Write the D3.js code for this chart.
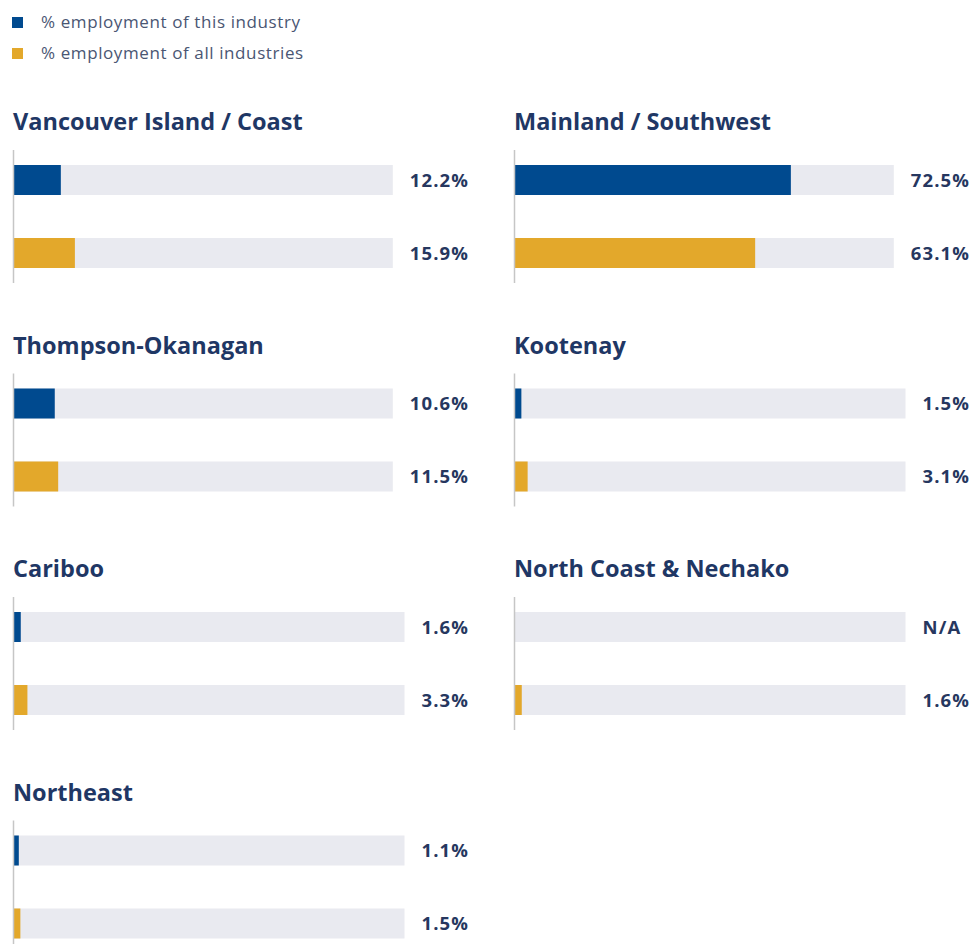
<!doctype html>
<html lang="en">
<head>
	<meta charset="UTF-8">
	<title>Employment by region</title>
	<style>
		body {
			margin: 0;
			background: #fff;
		}

		svg text {
			font-family: "Open Sans", sans-serif;
		}

		.legend__label {
			font-size: 17px;
			letter-spacing: 0.6px;
			fill: #4a5673;
		}

		.panel__title {
			font-size: 23.5px;
			font-weight: 700;
			fill: #1f3765;
		}

		.bar__label {
			font-size: 18.5px;
			font-weight: 700;
			letter-spacing: 1.1px;
			fill: #26375f;
		}
	</style>
</head>
<body>
	<script src="https://cdn.jsdelivr.net/npm/d3@7"></script>
	<script>
		var regions = ['Vancouver Island / Coast', 'Mainland / Southwest', 'Thompson-Okanagan', 'Kootenay', 'Cariboo', 'North Coast & Nechako', 'Northeast'];
		var thisIndustry = [12.2, 72.5, 10.6, 1.5, 1.6, null, 1.1];
		var allIndustries = [15.9, 63.1, 11.5, 3.1, 3.3, 1.6, 1.5];
		var seriesNames = ['% employment of this industry', '% employment of all industries'];
		var seriesKeys = ['this', 'all'];

		var w = 972,
			h = 944,
			colX = [13, 514],
			panelW = 456,
			rowStep = 223.5,
			labelGap = 17;

		var color = d3.scaleOrdinal()
			.domain(seriesKeys)
			.range(['#004a8f', '#e3a82b']);

		var svg = d3.select('body')
			.append('svg')
			.attr('width', w)
			.attr('height', h);

		/**
		* legend at top left
		*/
		var drawLegend = function() {
			var legend = svg.append('g')
				.selectAll('g')
				.data(seriesKeys)
				.enter()
				.append('g')
				.attr('transform', function(d, i) {
					return 'translate(12,' + (17 + i * 31) + ')';
				});

			legend.append('rect')
				.attr('width', 11)
				.attr('height', 11)
				.attr('fill', function(d) {
					return color(d);
				});

			legend.append('text')
				.attr('class', 'legend__label')
				.attr('x', 29)
				.attr('y', 11)
				.text(function(d, i) {
					return seriesNames[i];
				});
		};

		// vertical band for the two bars inside a panel
		var yScale = d3.scaleBand()
			.domain(seriesKeys)
			.range([35, 138])
			.paddingInner(0.589)
			.paddingOuter(0);

		var fmt = function(v) {
			return v == null ? 'N/A' : d3.format('.1f')(v) + '%';
		};

		/**
		* draw one panel per region
		*/
		var drawPanels = function() {
			regions.forEach(function(name, i) {
				var x0 = colX[i % 2],
					y0 = 130 + Math.floor(i / 2) * rowStep;
				var rows = [
					{ key: 'this', value: thisIndustry[i] },
					{ key: 'all', value: allIndustries[i] }
				];

				var g = svg.append('g')
					.attr('transform', 'translate(' + x0 + ',' + y0 + ')');

				g.append('text')
					.attr('class', 'panel__title')
					.attr('x', 0)
					.attr('y', 0)
					.text(name);

				// labels first, so the track can end where the widest label starts
				var labels = g.selectAll('.bar__label')
					.data(rows)
					.enter()
					.append('text')
					.attr('class', 'bar__label')
					.attr('y', function(d) {
						return yScale(d.key) + yScale.bandwidth() / 2;
					})
					.attr('dy', '0.36em')
					.text(function(d) {
						return fmt(d.value);
					});

				var maxLabel = 0;
				labels.each(function() {
					maxLabel = Math.max(maxLabel, this.getComputedTextLength());
				});
				var labelX = panelW - maxLabel;
				labels.attr('x', labelX);

				var xScale = d3.scaleLinear()
					.domain([0, 100])
					.range([0, labelX - labelGap]);

				g.selectAll('.track')
					.data(rows)
					.enter()
					.append('rect')
					.attr('class', 'track')
					.attr('x', 0)
					.attr('y', function(d) {
						return yScale(d.key);
					})
					.attr('width', xScale(100))
					.attr('height', yScale.bandwidth())
					.attr('fill', '#e9eaf0');

				g.selectAll('.bar')
					.data(rows.filter(function(d) { return d.value != null; }))
					.enter()
					.append('rect')
					.attr('class', 'bar')
					.attr('x', 0)
					.attr('y', function(d) {
						return yScale(d.key);
					})
					.attr('width', function(d) {
						return xScale(d.value) + 1.5;
					})
					.attr('height', yScale.bandwidth())
					.attr('fill', function(d) {
						return color(d.key);
					});

				g.append('line')
					.attr('x1', 0.5)
					.attr('x2', 0.5)
					.attr('y1', 20)
					.attr('y2', 153)
					.attr('stroke', '#c6c6c6')
					.attr('stroke-width', 1.5);
			});
		};

		drawLegend();
		drawPanels();
	</script>
</body>
</html>
